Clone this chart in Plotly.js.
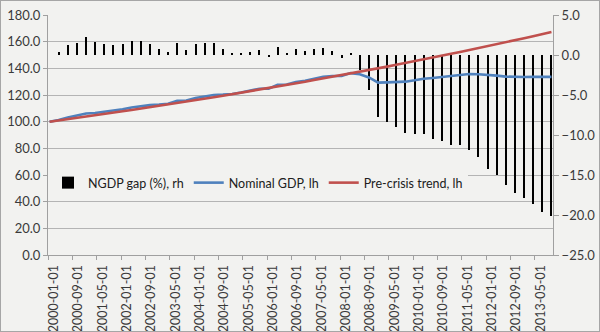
<!DOCTYPE html>
<html>
<head>
<meta charset="utf-8">
<script src="https://cdn.plot.ly/plotly-3.0.1.min.js"></script>
<style>
  html, body { margin: 0; padding: 0; background: #f2f2f0; }
  #chart { width: 598px; height: 330px; border: 1px solid #a6a6a6; }
</style>
</head>
<body>
<div id="chart"></div>
<script>
// Quarterly dates (first month of each quarter)
const dates = [
  "2000-01-01","2000-04-01","2000-07-01","2000-10-01",
  "2001-01-01","2001-04-01","2001-07-01","2001-10-01",
  "2002-01-01","2002-04-01","2002-07-01","2002-10-01",
  "2003-01-01","2003-04-01","2003-07-01","2003-10-01",
  "2004-01-01","2004-04-01","2004-07-01","2004-10-01",
  "2005-01-01","2005-04-01","2005-07-01","2005-10-01",
  "2006-01-01","2006-04-01","2006-07-01","2006-10-01",
  "2007-01-01","2007-04-01","2007-07-01","2007-10-01",
  "2008-01-01","2008-04-01","2008-07-01","2008-10-01",
  "2009-01-01","2009-04-01","2009-07-01","2009-10-01",
  "2010-01-01","2010-04-01","2010-07-01","2010-10-01",
  "2011-01-01","2011-04-01","2011-07-01","2011-10-01",
  "2012-01-01","2012-04-01","2012-07-01","2012-10-01",
  "2013-01-01","2013-04-01","2013-07-01","2013-10-01"
];

// NGDP gap (%), right-hand axis
const ngdpGap = [
  0.0, 0.4, 1.25, 1.55,
  2.2, 1.6, 1.4, 1.25,
  1.4, 1.7, 1.7, 1.4,
  0.8, 0.4, 1.45, 0.6,
  1.4, 1.55, 1.45, 0.7,
  0.2, 0.2, 0.35, 0.6,
  -0.3, 1.0, 0.3, 0.8,
  0.5, 0.7, 0.9, 0.5,
  -0.4, 0.2, -1.9, -4.4,
  -7.7, -8.4, -9.0, -9.7,
  -9.9, -9.9, -10.5, -10.7,
  -11.2, -11.2, -11.9, -12.8,
  -14.2, -15.0, -16.25, -17.2,
  -17.9, -18.6, -19.6, -20.1
];

// Nominal GDP, left-hand axis
const nominalGDP = [
  100.0, 101.3, 103.2, 104.4,
  106.1, 106.5, 107.3, 108.1,
  109.3, 110.6, 111.7, 112.4,
  112.8, 113.4, 115.6, 115.8,
  117.8, 119.0, 120.0, 120.3,
  120.8, 121.9, 123.3, 124.7,
  124.8, 127.6, 127.9, 129.7,
  130.6, 132.1, 133.6, 134.3,
  134.3, 136.4, 135.6, 133.2,
  129.3, 129.5, 129.8, 130.0,
  131.0, 132.2, 132.8, 133.6,
  134.2, 135.3, 135.7, 135.6,
  134.8, 134.5, 133.8, 133.5,
  133.5, 133.6, 133.4, 133.6
];

// Pre-crisis trend, left-hand axis
const preCrisisTrend = [
  100.0, 100.9, 101.9, 102.9,
  103.8, 104.8, 105.8, 106.8,
  107.8, 108.8, 109.8, 110.8,
  111.9, 112.9, 114.0, 115.1,
  116.1, 117.2, 118.3, 119.5,
  120.6, 121.7, 122.8, 124.0,
  125.2, 126.3, 127.5, 128.7,
  129.9, 131.2, 132.4, 133.6,
  134.9, 136.1, 137.4, 138.7,
  140.0, 141.3, 142.7, 144.0,
  145.4, 146.7, 148.1, 149.5,
  150.9, 152.3, 153.7, 155.2,
  156.6, 158.1, 159.6, 161.1,
  162.6, 164.1, 165.7, 167.2
];

const seriesNames = ["NGDP gap (%), rh", "Nominal GDP, lh", "Pre-crisis trend, lh"];

const FONT = "Lato, 'Open Sans', sans-serif";
const TXT = "#3a3a3a";
const GRID = "#b4b4b4";

const traces = [
  {
    type: "bar", name: seriesNames[0], x: dates, y: ngdpGap,
    xperiod: "M1", xperiodalignment: "middle",
    width: 20 * 24 * 3600 * 1000,
    marker: { color: "#000000", line: { width: 0 } },
    yaxis: "y", xaxis: "x"
  },
  {
    type: "scatter", mode: "lines", name: seriesNames[1], x: dates, y: nominalGDP,
    xperiod: "M1", xperiodalignment: "middle",
    line: { color: "#4f81bd", width: 2.6 },
    yaxis: "y2", xaxis: "x"
  },
  {
    type: "scatter", mode: "lines", name: seriesNames[2], x: dates, y: preCrisisTrend,
    xperiod: "M1", xperiodalignment: "middle",
    line: { color: "#c0504d", width: 2.6 },
    yaxis: "y2", xaxis: "x"
  }
];

const layout = {
  width: 598, height: 330,
  margin: { l: 47, r: 46, t: 14, b: 76, pad: 0 },
  paper_bgcolor: "#f2f2f0",
  plot_bgcolor: "#f2f2f0",
  font: { family: FONT, size: 12, color: TXT },
  showlegend: true,
  bargap: 0,
  legend: {
    orientation: "h", x: 0, y: 0.30, xanchor: "left", yanchor: "middle",
    bgcolor: "#f2f2f0", font: { family: FONT, size: 12.5, color: "#202020" },
    traceorder: "normal", itemwidth: 30, tracegroupgap: 0
  },
  xaxis: {
    type: "date",
    range: ["2000-01-01", "2013-11-01"],
    tick0: "2000-01-01", dtick: "M8", tickformat: "%Y-%m-%d",
    tickangle: -90, ticks: "outside", ticklen: 4, tickcolor: "#a0a0a0",
    ticklabelshift: 6,
    showline: true, linecolor: "#a0a0a0", linewidth: 1,
    showgrid: false, zeroline: false,
    tickfont: { family: FONT, size: 12.5, color: TXT }
  },
  yaxis: {
    side: "right", range: [-25, 5], dtick: 5, tick0: 0,
    tickformat: ".1f", ticks: "outside", ticklen: 5, tickcolor: "#a0a0a0",
    showline: true, linecolor: "#a0a0a0", linewidth: 1,
    showgrid: false, zeroline: false,
    tickfont: { family: FONT, size: 13, color: TXT }
  },
  yaxis2: {
    overlaying: "y", side: "left", range: [0, 180], dtick: 20, tick0: 0,
    tickformat: ".1f", ticks: "outside", ticklen: 4, tickcolor: "#a0a0a0",
    showline: true, linecolor: "#a0a0a0", linewidth: 1,
    showgrid: true, gridcolor: GRID, gridwidth: 1, zeroline: false,
    tickfont: { family: FONT, size: 13, color: TXT }
  }
};

Plotly.newPlot("chart", traces, layout, { displayModeBar: false, staticPlot: true });
</script>
</body>
</html>
